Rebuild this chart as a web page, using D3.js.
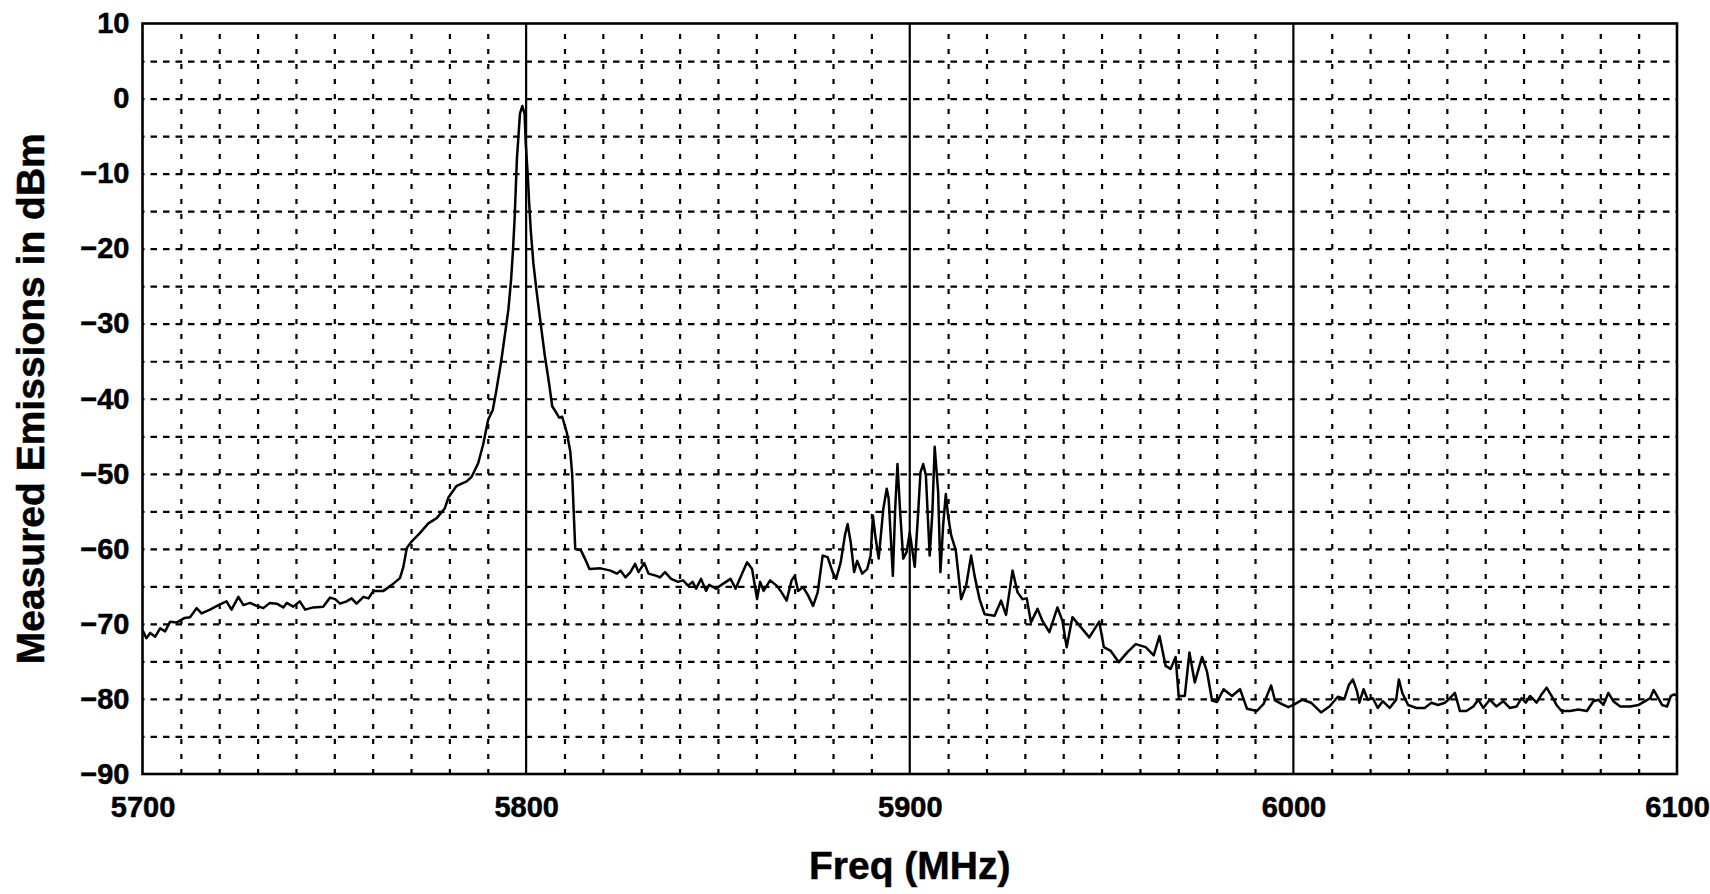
<!DOCTYPE html>
<html>
<head>
  <meta charset="utf-8">
  <script src="https://d3js.org/d3.v7.min.js"></script>
  <style>
  body {
    margin:0;
    background:#fff;
  }
  svg {
    display:block;
    font-family:"Liberation Sans", Arial, sans-serif;
    font-weight:bold;
  }
  .tick text {
    font-size:29px;
    fill:#000;
    stroke:#000;
    stroke-width:0.5px;
  }
  .grid line {
    stroke:#000;
    stroke-width:2.2;
  }
  .grid .domain {
    display:none;
  }
  .title {
    font-size:39px;
    fill:#000;
    stroke:#000;
    stroke-width:0.5px;
  }
</style>
</head>
<body>
<script>

  // spectrum trace
  var freq = [
    5700, 5701, 5702, 5703.3, 5704.6, 5705.9, 5707.2, 5709, 5711, 5712.4,
    5714.1, 5715.4, 5717.6, 5719.8, 5721.9, 5723.2, 5725, 5726.3, 5728, 5729.8,
    5731.5, 5733.2, 5735, 5736.7, 5737.6, 5739.3, 5741, 5742.4, 5744.5, 5747.1,
    5748.9, 5750.2, 5751.5, 5753.2, 5754.5, 5755.8, 5757.6, 5758.9, 5760.2, 5762.8,
    5765, 5767.1, 5768, 5768.9, 5770.2, 5772.3, 5774.5, 5776.7, 5778.8, 5779.7,
    5781.9, 5784.5, 5785.8, 5787.5, 5788.8, 5790.1, 5791.3, 5792.2, 5793.5, 5794.6,
    5795.4, 5796.1, 5796.6, 5797.0, 5797.3, 5797.6, 5798.0, 5798.4, 5799.0, 5799.6,
    5799.9, 5800.4, 5800.8, 5801.2, 5801.9, 5802.8, 5803.8, 5804.8, 5806.0, 5806.8,
    5807.8, 5808.6, 5809.4, 5810.6, 5811.5, 5812.0, 5812.4, 5812.8, 5814.3, 5815.5,
    5816.5, 5819.4, 5822, 5823.7, 5824.6, 5825.9, 5827.2, 5828.4, 5829.3, 5830.8,
    5831.9, 5834, 5834.9, 5836.2, 5837.8, 5839.6, 5840.9, 5842.2, 5843.4, 5844.3,
    5845.6, 5846.9, 5847.7, 5849.5, 5851.2, 5853.3, 5854.6, 5856.3, 5857.6, 5858.9,
    5860.2, 5861, 5861.9, 5863.6, 5865.3, 5866.6, 5867.9, 5869.2, 5870, 5870.9,
    5872.2, 5873.5, 5874.8, 5876, 5877.3, 5878.6, 5879.9, 5880.8, 5882, 5883.1,
    5883.8, 5884.6, 5885.5, 5886.3, 5887.6, 5888.9, 5889.8, 5890.4, 5891, 5891.9,
    5893.1, 5894, 5894.5, 5895.6, 5896.2, 5896.8, 5897.5, 5898.3, 5899.2, 5900,
    5901.3, 5902.2, 5902.8, 5903.5, 5904.2, 5905.2, 5905.9, 5906.5, 5907.4, 5908,
    5908.7, 5909.4, 5910, 5910.8, 5912, 5913.4, 5914.7, 5916, 5916.9, 5918.2,
    5919.5, 5922.1, 5923.8, 5925.1, 5926.8, 5928.1, 5929.4, 5930.5, 5931.6, 5933.3,
    5934.6, 5936.4, 5938.5, 5939.8, 5940.9, 5942.4, 5944.2, 5946.8, 5949.4, 5950.6,
    5952.4, 5954.5, 5956.7, 5958.9, 5961.5, 5963.6, 5965.1, 5966.7, 5968, 5969.3,
    5970.1, 5971.7, 5972.9, 5974.3, 5976.2, 5977.5, 5978.8, 5980.1, 5981.8, 5984,
    5986.1, 5987.9, 5990.5, 5992.2, 5994.2, 5995.2, 5997, 5998.7, 6000, 6002.4,
    6004.6, 6007.2, 6009.4, 6011.6, 6013.3, 6014.5, 6015.5, 6016.6, 6017.2, 6018.3,
    6019.4, 6020.7, 6022, 6023.3, 6025.1, 6026.8, 6027.5, 6028.4, 6029.9, 6032.1,
    6034.2, 6036, 6037.7, 6039.5, 6040.8, 6042.1, 6043.4, 6045.1, 6046.9, 6048.2,
    6049.5, 6051.2, 6052.9, 6054.7, 6056.4, 6058.2, 6059.5, 6060.6, 6061.7, 6063.4,
    6064.7, 6066, 6067.3, 6068.6, 6069.9, 6072.1, 6074.3, 6076.5, 6078.2, 6079.5,
    6080.8, 6082.1, 6083.4, 6085.2, 6087.8, 6090, 6091.7, 6093, 6093.9, 6094.8,
    6096.1, 6097.4, 6098.4, 6099.3, 6100
  ];

  var dbm = [
    -70.8, -71.9, -71.2, -71.7, -70.6, -71.0, -69.7, -69.8, -69.2, -69.1,
    -67.9, -68.6, -68.1, -67.5, -67.0, -68.1, -66.4, -67.5, -67.2, -67.6,
    -67.9, -67.2, -67.3, -67.8, -67.2, -67.7, -67.0, -68.1, -67.8, -67.7,
    -66.5, -66.7, -67.3, -67.0, -66.6, -67.3, -66.4, -66.6, -65.6, -65.6,
    -64.8, -63.9, -62.4, -59.9, -59.0, -57.9, -56.6, -55.9, -54.6, -53.2,
    -51.6, -51.0, -50.4, -48.6, -46.1, -42.8, -41.5, -39, -35, -31,
    -28, -24, -20, -16, -12, -8, -5, -2, -1, -2,
    -6, -10, -14, -17.5, -22, -26, -30, -34, -38, -41,
    -41.8, -42.5, -42.4, -44.5, -47, -50, -55, -60, -60.2, -61.5,
    -62.7, -62.6, -62.9, -63.3, -62.9, -63.8, -63.1, -62.0, -63.1, -61.9,
    -63.3, -63.6, -63.8, -63.1, -64.0, -64.4, -64.2, -64.9, -64.4, -65.3,
    -64.0, -65.6, -64.8, -65.3, -64.7, -64.0, -65.3, -63.3, -61.8, -62.7,
    -66.7, -64.4, -65.6, -64.2, -64.9, -65.8, -66.9, -64.2, -63.6, -65.6,
    -65.1, -66.2, -67.6, -65.8, -60.9, -61.1, -63.1, -64.0, -61.8, -58.2,
    -56.7, -59.1, -63.1, -61.6, -63.3, -62.7, -60.9, -55.6, -58.2, -61.3,
    -54.7, -52.0, -53.3, -63.6, -54.7, -48.7, -55.1, -61.3, -60.4, -57.8,
    -62.4, -55.1, -49.8, -48.7, -50.2, -60.9, -55.1, -46.4, -52.4, -63.1,
    -56.9, -52.7, -55.6, -58.2, -60.2, -66.7, -64.9, -60.9, -63.6, -66.7,
    -68.7, -68.9, -66.9, -68.8, -62.9, -65.8, -66.7, -66.6, -69.8, -68.0,
    -69.6, -71.1, -67.8, -69.6, -73.1, -69.1, -70.2, -71.8, -69.7, -73.1,
    -73.6, -75.1, -73.8, -72.7, -73.1, -74.2, -71.6, -75.6, -76.0, -74.4,
    -79.6, -79.6, -73.8, -77.8, -74.4, -76.4, -80.2, -80.4, -78.7, -79.6,
    -78.7, -81.3, -81.6, -80.7, -78.2, -80.2, -80.7, -81.1, -80.8, -80.1,
    -80.5, -81.8, -81.0, -79.7, -80.0, -78.1, -77.4, -79.0, -80.5, -78.7,
    -80.1, -79.9, -81.2, -80.3, -81.2, -80.1, -77.4, -79.2, -80.8, -81.2,
    -81.2, -80.5, -80.8, -80.5, -79.9, -79.2, -81.6, -81.6, -81.0, -80.1,
    -81.2, -80.1, -81.0, -80.3, -81.2, -81.0, -79.9, -80.5, -79.6, -80.5,
    -79.4, -78.5, -79.6, -80.8, -81.6, -81.6, -81.4, -81.6, -80.3, -80.1,
    -80.8, -79.2, -80.3, -81.0, -81.0, -80.8, -80.3, -79.9, -78.8, -79.6,
    -80.8, -81.0, -79.6, -79.4, -79.6
  ];

  var xLabels = [5700, 5800, 5900, 6000, 6100];
  var yLabels = [10, 0, -10, -20, -30, -40, -50, -60, -70, -80, -90];
  var majorFreq = [5800, 5900, 6000];

  var margin = {top: 23.5, right: 33, bottom: 120, left: 142.5},
    fullW = 1710, fullH = 894,
    width = fullW - margin.left - margin.right,
    height = fullH - margin.top - margin.bottom;

  var svg = d3.select("body").append("svg")
    .attr("width", fullW)
    .attr("height", fullH);

  var g = svg.append("g")
    .attr("transform", "translate(" + margin.left + "," + margin.top + ")");

  var x = d3.scaleLinear().domain([5700, 6100]).range([0, width]);
  var y = d3.scaleLinear().domain([-90, 10]).range([height, 0]);

  // dashed minor grid, every 10 MHz and every 5 dBm
  var minorX = d3.range(5710, 6100, 10).filter(d => d % 100 !== 0);
  var minorY = d3.range(-85, 10, 5);

  g.append("g")
    .attr("class", "grid gx")
    .attr("transform", "translate(0," + height + ")")
    .call(d3.axisBottom(x).tickValues(minorX).tickSize(-height).tickFormat(""))
    .selectAll("line")
      .attr("stroke-dasharray", "5,10");

  g.append("g")
    .attr("class", "grid gy")
    .call(d3.axisLeft(y).tickValues(minorY).tickSize(-width).tickFormat(""))
    .selectAll("line")
      .attr("stroke-dasharray", "6.5,6")
      .attr("stroke-dashoffset", -8);

  // solid lines at 5800, 5900, 6000
  g.selectAll(".major")
    .data(majorFreq)
    .enter().append("line")
    .attr("class", "major")
    .attr("x1", d => x(d))
    .attr("x2", d => x(d))
    .attr("y1", 0)
    .attr("y2", height)
    .attr("stroke", "#000")
    .attr("stroke-width", 2.2);

  g.append("rect")
    .attr("width", width)
    .attr("height", height)
    .attr("fill", "none")
    .attr("stroke", "#000")
    .attr("stroke-width", 2.6);

  var line = d3.line()
    .x((d, i) => x(freq[i]))
    .y(d => y(d));

  g.append("path")
    .datum(dbm)
    .attr("fill", "none")
    .attr("stroke", "#000")
    .attr("stroke-width", 2.5)
    .attr("stroke-linejoin", "round")
    .attr("d", line);

  // labels
  var fmt = d => (d < 0 ? "\u2212" : "") + Math.abs(d);

  var xAxis = g.append("g")
    .attr("transform", "translate(0," + height + ")")
    .call(d3.axisBottom(x).tickValues(xLabels).tickSize(0).tickPadding(22).tickFormat(fmt));
  xAxis.select(".domain").remove();

  var yAxis = g.append("g")
    .call(d3.axisLeft(y).tickValues(yLabels).tickSize(0).tickPadding(13).tickFormat(fmt));
  yAxis.select(".domain").remove();

  svg.selectAll(".tick text")
    .attr("font-family", null)
    .attr("font-size", null);

  svg.append("text")
    .attr("class", "title")
    .attr("text-anchor", "middle")
    .attr("x", margin.left + x(5900))
    .attr("y", 879)
    .text("Freq (MHz)");

  svg.append("text")
    .attr("class", "title")
    .attr("text-anchor", "middle")
    .attr("transform", "translate(44," + (margin.top + height / 2) + ") rotate(-90)")
    .text("Measured Emissions in dBm");

</script>
</body>
</html>
